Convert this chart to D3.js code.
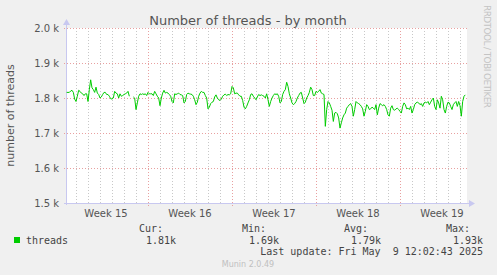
<!DOCTYPE html>
<html>
<head>
<meta charset="utf-8">
<script src="https://cdn.jsdelivr.net/npm/d3@7"></script>
<style>
  html, body { margin: 0; padding: 0; background: #f0f0f0; }
  svg { display: block; }
</style>
</head>
<body>
<div id="chart"></div>
<script>
// Samples every 160 minutes (null = no data)
const sampleStart = Date.UTC(2025, 3, 6, 5, 20);
const sampleStepMin = 160;
const threads = [
  1816,1816,1816,1820,1822,1816,1797,1790,1805,1822,
  1819,1814,1812,1807,1812,1812,1790,1824,1852,1829,
  1824,1816,1831,1814,1810,1800,1803,1810,1816,1816,
  1810,1810,1805,1798,1797,1800,1819,1814,1812,1800,
  1812,1805,1807,1810,1812,1814,1819,1805,null,null,
  1803,1800,1767,1786,1805,1812,1810,1812,1810,1812,
  1807,1816,1812,1812,1812,1807,1819,1812,1805,1800,
  1778,1800,1814,1822,
  1814,1816,1814,1810,1805,1790,1786,1812,1810,1812,
  1814,1810,1809,1807,1786,1790,1810,1814,1812,1811,
  1810,1805,1795,1781,1788,1805,1814,1819,1816,1816,
  1807,1800,1769,1774,1784,1788,1790,1803,1809,1800,
  1795,1793,1797,1805,1809,1811,1807,1810,1809,1812,
  1833,1829,1812,1814,1814,1809,1805,1805,1793,1774,
  1769,1776,1786,1795,1810,1812,1805,1800,1795,1803,
  1810,1807,1809,1807,1805,
  1800,1812,1795,1776,1790,1800,1807,1812,1810,1812,
  1805,1786,1790,1810,1819,1824,1845,1833,1812,1800,
  1786,1781,1784,1790,1800,1807,1814,1816,1800,1784,
  1788,1800,1807,1816,1831,1824,1807,1807,1819,1816,
  1819,1824,1814,1812,1810,1719,1767,1790,1786,1776,
  1765,1733,1757,1759,1755,1743,1714,1729,1743,1752,
  1757,1771,1776,1781,1784,1776,1748,1767,1790,1786,
  1784,1781,1776,1769,1748,
  1762,1781,1776,1767,1769,1774,1771,1767,1781,1752,
  1771,1784,1781,1778,1781,1776,1767,1752,1748,1771,
  1778,1767,1765,1769,1771,1767,1762,1757,1776,1786,
  1781,1769,1771,1767,1776,1757,1767,1781,1786,1788,
  1786,1781,1784,1776,1786,1788,1786,1790,1781,1788,
  1795,1800,1776,1767,1795,1786,1771,1805,1795,1767,
  1757,1776,1788,1786,1776,1767,1781,1786,1790,1776,
  1790,1778,1748,1790,1805,1809
];

const yTicks = [1500, 1600, 1700, 1800, 1900, 2000];
const weekLabels = ["Week 15", "Week 16", "Week 17", "Week 18", "Week 19"];
const weekMids = [
  Date.UTC(2025, 3, 9, 12), Date.UTC(2025, 3, 16, 12), Date.UTC(2025, 3, 23, 12),
  Date.UTC(2025, 3, 30, 12), Date.UTC(2025, 4, 7, 12)
];
const weekStarts = [Date.UTC(2025, 3, 13), Date.UTC(2025, 3, 20), Date.UTC(2025, 3, 27), Date.UTC(2025, 4, 4)];
const legendHeads = ["Cur:", "Min:", "Avg:", "Max:"];
const legendValues = ["1.81k", "1.69k", "1.79k", "1.93k"];

const W = 497, H = 275;
const plot = { left: 66, right: 467, top: 28, bottom: 203 };
const timeStart = Date.UTC(2025, 3, 6, 4), timeEnd = Date.UTC(2025, 4, 9, 12);

const svg = d3.select('#chart').append('svg')
  .attr('width', W).attr('height', H)
  .style('font-family', 'DejaVu Sans, sans-serif');

svg.append('rect').attr('width', W).attr('height', H).attr('fill', '#f0f0f0');
svg.append('rect')
  .attr('x', plot.left).attr('y', plot.top)
  .attr('width', plot.right - plot.left).attr('height', plot.bottom - plot.top)
  .attr('fill', '#ffffff');

const x = d3.scaleUtc().domain([timeStart, timeEnd]).range([plot.left, plot.right - 1]);
const y = d3.scaleLinear().domain([1500, 2000]).range([plot.bottom, plot.top]);

// minor (daily) grid
const days = d3.utcDay.range(new Date(timeStart), new Date(timeEnd));
svg.append('g').selectAll('line').data(days).enter().append('line')
  .attr('x1', d => Math.round(x(d)) + 0.5).attr('x2', d => Math.round(x(d)) + 0.5)
  .attr('y1', plot.top).attr('y2', plot.bottom)
  .attr('stroke', '#c8c8c8').attr('stroke-width', 1).attr('stroke-dasharray', '1,2');

// major grid
svg.append('g').selectAll('line').data(weekStarts).enter().append('line')
  .attr('x1', d => Math.round(x(d)) + 0.5).attr('x2', d => Math.round(x(d)) + 0.5)
  .attr('y1', plot.top).attr('y2', plot.bottom + 3)
  .attr('stroke', '#e8a0a0').attr('stroke-width', 1).attr('stroke-dasharray', '1,2');
svg.append('g').selectAll('line').data(yTicks).enter().append('line')
  .attr('x1', plot.left - 2).attr('x2', plot.right)
  .attr('y1', d => Math.round(y(d)) + 0.5).attr('y2', d => Math.round(y(d)) + 0.5)
  .attr('stroke', '#e8a0a0').attr('stroke-width', 1).attr('stroke-dasharray', '1,2');

// y tick labels
svg.append('g').selectAll('text').data(yTicks).enter().append('text')
  .attr('x', 59).attr('y', d => y(d) + 3.5)
  .attr('text-anchor', 'end').attr('font-size', '10px').attr('fill', '#555')
  .text(d => d3.format('.1f')(d / 1000) + ' k');

// week labels
svg.append('g').selectAll('text').data(weekMids).enter().append('text')
  .attr('x', d => x(d)).attr('y', 216.5)
  .attr('text-anchor', 'middle').attr('font-size', '10px').attr('fill', '#555')
  .text((d, i) => weekLabels[i]);

// axes with arrows
const axisColor = '#c8c8f0';
svg.append('line').attr('x1', plot.left + 0.5).attr('x2', plot.left + 0.5)
  .attr('y1', plot.bottom + 2).attr('y2', 22).attr('stroke', axisColor);
svg.append('path').attr('d', `M${plot.left - 3},${25} L${plot.left + 0.5},${19} L${plot.left + 4},${25} Z`)
  .attr('fill', axisColor);
svg.append('line').attr('x1', plot.left - 2).attr('x2', 471)
  .attr('y1', plot.bottom + 0.5).attr('y2', plot.bottom + 0.5).attr('stroke', axisColor);
svg.append('path').attr('d', `M${469},${plot.bottom - 3} L${475},${plot.bottom + 0.5} L${469},${plot.bottom + 4} Z`)
  .attr('fill', axisColor);

// data line
const line = d3.line()
  .defined(d => d.v !== null)
  .x(d => x(d.t)).y(d => y(d.v));
const points = threads.map((v, i) => ({ t: sampleStart + i * sampleStepMin * 60000, v }));
svg.append('path').datum(points)
  .attr('d', line).attr('fill', 'none')
  .attr('stroke', '#00cc00').attr('stroke-width', 1);

// title and axis label
svg.append('text').attr('x', 248).attr('y', 25)
  .attr('text-anchor', 'middle').attr('font-size', '13px').attr('fill', '#555')
  .text('Number of threads - by month');
svg.append('text')
  .attr('transform', `translate(14,${(plot.top + plot.bottom) / 2}) rotate(-90)`)
  .attr('text-anchor', 'middle').attr('font-size', '11px').attr('fill', '#555')
  .text('number of threads');
svg.append('text')
  .attr('transform', 'translate(484,5) rotate(90)')
  .attr('font-size', '9px').attr('fill', '#c4c4c4')
  .attr('textLength', 103).attr('lengthAdjust', 'spacing')
  .text('RRDTOOL / TOBI OETIKER');

// legend
const mono = 'DejaVu Sans Mono, monospace';
svg.append('rect').attr('x', 14).attr('y', 237).attr('width', 6).attr('height', 6).attr('fill', '#00cc00');
svg.append('text').attr('x', 26).attr('y', 243.5).attr('font-family', mono)
  .attr('font-size', '10px').attr('fill', '#444').text('threads');
const colEnds = [176, 279, 381, 483];
svg.append('g').selectAll('text').data(legendHeads).enter().append('text')
  .attr('x', (d, i) => colEnds[i] - 13).attr('y', 232).attr('font-family', mono)
  .attr('text-anchor', 'end').attr('font-size', '10px').attr('fill', '#444').text(d => d);
svg.append('g').selectAll('text').data(legendValues).enter().append('text')
  .attr('x', (d, i) => colEnds[i]).attr('y', 243.5).attr('font-family', mono)
  .attr('text-anchor', 'end').attr('font-size', '10px').attr('fill', '#444').text(d => d);
svg.append('text').attr('x', 483).attr('y', 255).attr('font-family', mono)
  .attr('text-anchor', 'end').attr('font-size', '10px').attr('fill', '#444')
  .style('white-space', 'pre').attr('xml:space', 'preserve')
  .text('Last update: Fri May  9 12:02:43 2025');
svg.append('text').attr('x', 248).attr('y', 267)
  .attr('text-anchor', 'middle').attr('font-size', '8px').attr('fill', '#c0c0c0')
  .text('Munin 2.0.49');
</script>
</body>
</html>
